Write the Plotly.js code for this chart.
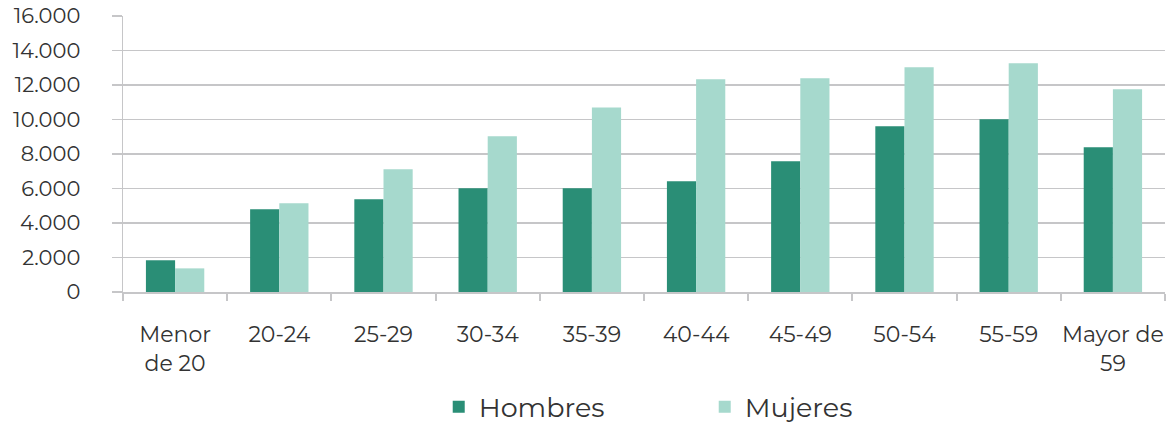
<!DOCTYPE html>
<html>
<head>
<meta charset="utf-8">
<script src="https://cdn.plot.ly/plotly-3.0.1.min.js"></script>
<style>html,body{margin:0;padding:0;background:#fff;}#chart{width:1169px;height:423px;}</style>
</head>
<body>
<div id="chart"></div>
<script>
const categories = ["Menor<br>de 20", "20-24", "25-29", "30-34", "35-39", "40-44", "45-49", "50-54", "55-59", "Mayor de<br>59"];
const hombres = [1840, 4800, 5370, 6010, 6010, 6420, 7580, 9610, 10010, 8390];
const mujeres = [1370, 5140, 7110, 9030, 10700, 12330, 12390, 13030, 13260, 11750];
const yTicks = [0, 2000, 4000, 6000, 8000, 10000, 12000, 14000, 16000];

const FONT = "Montserrat, 'Open Sans', sans-serif";
const GRID = "#c6c6c8";

const traces = [
  {type: "bar", name: "Hombres", x: categories, y: hombres, marker: {color: "#2A8E76"}},
  {type: "bar", name: "Mujeres", x: categories, y: mujeres, marker: {color: "#A6D9CD"}}
];

const layout = {
  width: 1169, height: 423,
  margin: {l: 123, r: 4, t: 16, b: 131, autoexpand: false},
  paper_bgcolor: "#fff", plot_bgcolor: "#fff",
  font: {family: FONT, size: 19, color: "#333"},
  separators: ",.",
  barmode: "group",
  bargap: 0.44,
  bargroupgap: 0,
  showlegend: true,
  legend: {
    orientation: "h", x: 0.303, xanchor: "left", y: -0.417, yanchor: "middle",
    font: {family: FONT, size: 27, color: "#333"},
    entrywidth: 221, entrywidthmode: "pixels",
    itemclick: false
  },
  xaxis: {
    type: "category",
    automargin: false,
    tickangle: 0,
    showline: true, linecolor: GRID, linewidth: 2,
    ticks: "outside", tickson: "boundaries", ticklen: 7, tickcolor: GRID, tickwidth: 2,
    ticklabelstandoff: 22,
    showgrid: false, zeroline: false,
    tickfont: {family: FONT, size: 22, color: "#333"}
  },
  yaxis: {
    automargin: false,
    range: [0, 16000],
    tickvals: yTicks,
    tickformat: ",",
    showline: true, linecolor: GRID, linewidth: 1.5,
    showgrid: true, gridcolor: GRID, gridwidth: 1.5,
    ticks: "outside", ticklen: 10, tickcolor: GRID, tickwidth: 1.5,
    ticklabelstandoff: 27,
    zeroline: false,
    tickfont: {family: FONT, size: 21, color: "#333"}
  }
};

Plotly.newPlot("chart", traces, layout, {displayModeBar: false, staticPlot: true});
</script>
</body>
</html>
